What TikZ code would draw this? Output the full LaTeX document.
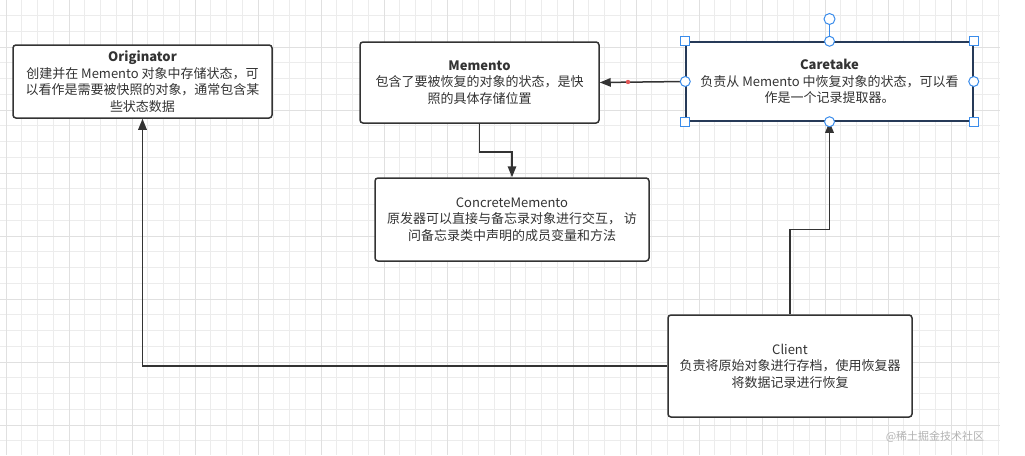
\documentclass[tikz,border=0pt]{standalone}
\usepackage{fontspec}
\setmainfont{Noto Sans CJK SC}
\usepackage{tikz}
\usetikzlibrary{arrows.meta}
\definecolor{ink}{RGB}{51,51,51}
\definecolor{gridminor}{RGB}{236,236,236}
\definecolor{gridmajor}{RGB}{224,224,224}
\definecolor{selborder}{RGB}{38,58,88}
\definecolor{handle}{RGB}{58,140,235}
\definecolor{reddot}{RGB}{226,88,88}

\begin{document}
\begin{tikzpicture}[x=1pt,y=-1pt,
    box/.style={draw=ink,line width=1.5pt,rounded corners=3pt,fill=white,
      text=ink,align=center,inner sep=0pt,font=\fontsize{13}{16.5}\selectfont},
    conn/.style={draw=ink,line width=1.5pt,-{Triangle[length=11pt,width=8.5pt]}},
    hsq/.style={draw=handle,fill=white,line width=1pt,minimum size=9pt,inner sep=0pt},
    hci/.style={draw=handle,fill=white,line width=1pt,circle,minimum size=10pt,inner sep=0pt}]
    \useasboundingbox (0,0) rectangle (1025,455);
    % grid paper
    \foreach \i in {0,...,63}
      \draw[gridminor,line width=0.8pt] ({6+15.75*\i},0) -- ({6+15.75*\i},455);
    \foreach \j in {0,...,27}
      \draw[gridminor,line width=0.8pt] (0,{15.5+15.75*\j}) -- (1000,{15.5+15.75*\j});
    \foreach \i in {0,4,...,60}
      \draw[gridmajor,line width=0.8pt] ({6+15.75*\i},0) -- ({6+15.75*\i},455);
    \foreach \j in {2,6,...,26}
      \draw[gridmajor,line width=0.8pt] (0,{15.5+15.75*\j}) -- (1000,{15.5+15.75*\j});

    \node[box,minimum width=259pt,minimum height=73pt] (orig) at (142.5,81.5)
      {\textbf{Originator}\\创建并在 Memento 对象中存储状态，可\\以看作是需要被快照的对象，通常包含某\\些状态数据};
    \node[box,minimum width=239pt,minimum height=81pt] (memento) at (479.5,82.5)
      {\textbf{Memento}\\包含了要被恢复的对象的状态，是快\\照的具体存储位置};
    \node[box,draw=selborder,rounded corners=0pt,minimum width=287pt,minimum height=79pt] (caretake) at (829.5,81.5)
      {\textbf{Caretake}\\负责从 Memento 中恢复对象的状态，可以看\\作是一个记录提取器。};
    \node[box,minimum width=274pt,minimum height=83pt] (concrete) at (512,219.5)
      {ConcreteMemento\\原发器可以直接与备忘录对象进行交互， 访\\问备忘录类中声明的成员变量和方法};
    \node[box,minimum width=244pt,minimum height=102pt] (client) at (790,366)
      {Client\\负责将原始对象进行存档，使用恢复器\\将数据记录进行恢复};

    \draw[conn] (caretake.west) -- (memento.east);
    \draw[conn] (memento.south) -- ++(0,28) -| (concrete.north);
    \draw[conn] (client.north) -- ++(0,-85) -| (caretake.south);
    \draw[conn] (client.west) -| (orig.south);
    \fill[reddot] (628,82) circle (2.2pt);

    % selection handles
    \coordinate (rot) at (829.5,19);
    \draw[handle,line width=1pt] (caretake.north) -- (rot);
    \node[hci,minimum size=11pt] (rothandle) at (rot) {};
    \foreach \a in {north west,north east,south west,south east}
      \node[hsq] at (caretake.\a) {};
    \foreach \a in {north,south,east,west}
      \node[hci] at (caretake.\a) {};

    \node[text=gray!60,font=\fontsize{11}{13}\selectfont] (mark) at (935,437) {@稀土掘金技术社区};
\end{tikzpicture}
\end{document}
